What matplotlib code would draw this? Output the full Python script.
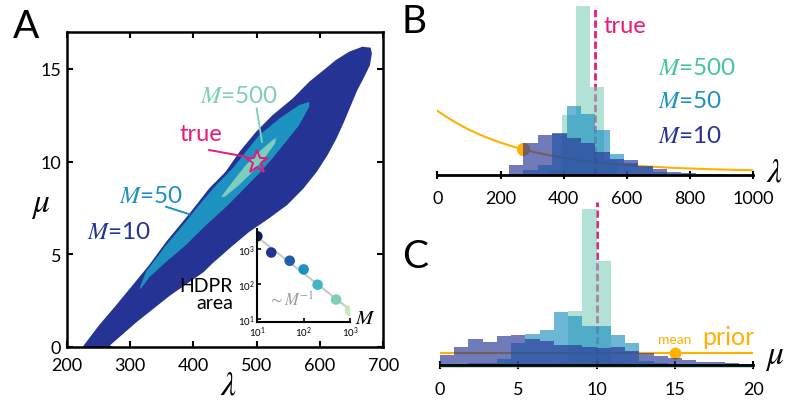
import numpy as np
import matplotlib.pyplot as plt
from matplotlib.ticker import LogLocator, NullLocator, LogFormatterSciNotation

plt.rcParams['font.family'] = ['Lato', 'DejaVu Sans']
plt.rcParams['mathtext.fontset'] = 'stix'

# cores (YlGnBu)
c10, c50, c500 = '#253494', '#1d91c0', '#7fcdbb'
pink = '#e8197a'
orange = '#ffb000'

# ---------------- painel A: regiões HDPR no plano (lambda, mu), contorno
hd10_lam = [225, 251, 278, 304, 330, 357, 394, 425, 451, 473, 499, 525, 557, 583, 609, 625, 646, 667, 680,
            682, 679, 670, 659, 649, 638, 626, 612, 595, 574, 548, 518, 488, 460, 430, 416, 363, 310, 268, 275]
hd10_mu = [0, 1.17, 2.25, 3.33, 4.41, 5.67, 7.2, 8.55, 9.45, 10.53, 11.6, 12.5, 13.4, 14.3, 15.02, 15.47,
           15.92, 16.19, 16.14,
           15.83, 15.2, 14.57, 13.85, 13.04, 12.14, 11.24, 10.35, 9.45, 8.55, 7.65, 6.9, 6.2, 5.4, 4.5,
           4.03, 2.77, 1.33, 0.08, 0]
hd50_lam = [315, 325, 357, 388, 409, 436, 462, 483, 504, 536, 567, 583,
            583, 567, 546, 525, 504, 478, 452, 420, 388, 357, 331, 317]
hd50_mu = [3.15, 4.05, 5.49, 6.75, 7.65, 8.73, 9.63, 10.53, 11.42, 12.32, 13.04, 13.22,
           12.95, 11.96, 11.06, 10.17, 9.36, 8.46, 7.56, 6.57, 5.49, 4.59, 3.78, 3.15]
hd500_lam = [444, 462, 483, 504, 525, 531, 529, 514, 494, 472, 450]
hd500_mu = [8.1, 8.91, 9.81, 10.53, 11.15, 11.28, 10.97, 10.26, 9.45, 8.73, 8.1]

true_lam, true_mu = 500, 10

# inset: área HDPR vs M
inset_M = [10, 20, 50, 100, 200, 500, 1000]
inset_area = [2300, 790, 460, 260, 95, 36, 17]
inset_cols = ['#081d58', '#253494', '#225ea8', '#1d91c0', '#41b6c4', '#7fcdbb', '#c7e9b4']

# ---------------- painel B: histogramas de lambda
b_edges = np.linspace(0, 1000, 23)
b_m10 = [0, 0, 0, 0, 0, 10, 31.5, 39.7, 42, 36.3, 31.7, 22.3, 15.7, 14.7, 9, 5.7, 3, 1.7, 1.2, 0.7, 0, 0]
b_m50 = [0, 0, 0, 0, 0, 0, 4.5, 10, 40.7, 69, 60.7, 44.7, 20.7, 12, 7.4, 3, 0, 0, 0, 0, 0, 0]
b500_edges = [351, 395, 439, 483, 527, 571]
b_m500 = [5, 60, 168.4, 87.4, 15]
prior_lam = [0, 25, 50, 75, 100, 125, 150, 175, 200, 236, 272, 300, 350, 400, 450, 500, 550, 600,
             650, 700, 750, 800, 850, 900, 950, 1000]
prior_lam_h = [64, 58.6, 53.7, 49.2, 45.1, 41.4, 38.0, 34.9, 32.1, 28.4, 25.3, 23.1, 19.7, 16.9, 14.5,
               12.6, 11.0, 9.6, 8.5, 7.6, 6.8, 6.2, 5.6, 5.2, 4.8, 4.5]
prior_lam_mean = 272

# ---------------- painel C: histogramas de mu
c_edges = np.linspace(0, 20, 23)
c_m10 = [10.5, 18.8, 26.5, 23.8, 29.5, 30.5, 26.5, 24.8, 20.8, 20.8, 18.2, 17.2, 18.2, 14.8, 12.5, 9.8,
         7.2, 5.8, 3.8, 3.2, 2.5, 1.5]
c_m50 = [0.5, 1, 2.2, 2.2, 6.5, 22.5, 31.2, 35.5, 53.2, 49.8, 39.2, 39.2, 30.5, 22.2, 4, 2, 0, 0, 0, 0, 0, 0]
c_m500 = [0, 0, 0, 0, 0, 0, 0, 0, 3, 54.2, 156.5, 104.8, 3, 0, 0, 0, 0, 0, 0, 0, 0, 0]
prior_mu_h = 12.3
prior_mu_mean = 15


fig = plt.figure(figsize=(7.85, 4.06), dpi=100)

# ======== A
ax = fig.add_axes([0.08497, 0.14286, 0.40331, 0.77660])
ax.fill(hd10_lam, hd10_mu, color=c10, lw=0)
ax.fill(hd50_lam, hd50_mu, color=c50, lw=0)
ax.fill(hd500_lam, hd500_mu, color=c500, lw=0)
ax.plot(true_lam, true_mu, marker='*', ms=17, mfc='none', mec=pink, mew=1.4)
ax.set_xlim(200, 700)
ax.set_ylim(0, 17)
ax.set_xticks([200, 300, 400, 500, 600, 700])
ax.set_yticks([0, 5, 10, 15])
ax.tick_params(direction='in', top=True, right=True, length=4, width=1.5, labelsize=13)
ax.tick_params(axis='x', pad=7)
ax.tick_params(axis='y', pad=4)
for s in ax.spines.values():
    s.set_linewidth(1.8)

ax.text(473, 13.58, '$M$=500', color=c500, fontsize=17.5, ha='center', va='center')
ax.plot([500, 508.4], [12.86, 11.06], color=c500, lw=1.4)
ax.text(412, 11.5, 'true', color=pink, fontsize=17, ha='center', va='center')
ax.plot([425, 483], [10.62, 10.26], color=pink, lw=1.4)
ax.text(333, 8.19, '$M$=50', color=c50, fontsize=17.5, ha='center', va='center')
ax.plot([357, 393.6], [7.56, 7.16], color=c50, lw=1.4)
ax.text(283, 6.21, '$M$=10', color=c10, fontsize=17.5, ha='center', va='center')
ax.text(462.6, 2.86, 'HDPR\narea', fontsize=14, ha='right', va='center',
        multialignment='right', linespacing=0.95)

fig.text(0.0331, 0.9335, 'A', fontsize=28, ha='center', va='center')
fig.text(0.2904, 0.0517, r'$\lambda$', fontsize=24, ha='center', va='center')
fig.text(0.0522, 0.4926, r'$\mu$', fontsize=24, ha='center', va='center')

# inset
ins = fig.add_axes([0.32777, 0.20443, 0.11809, 0.22906])
ins.set_facecolor('none')
ins.set_xscale('log')
ins.set_yscale('log')
p = np.polyfit(np.log10(inset_M), np.log10(inset_area), 1)
ins.plot(inset_M, 10 ** np.polyval(p, np.log10(inset_M)), color='#c8c8c8', lw=1.5, zorder=1)
ins.scatter(inset_M, inset_area, c=inset_cols, s=58, lw=0, zorder=2)
ins.set_xlim(10, 1000)
ins.set_ylim(8.2, 3700)
for a in (ins.xaxis, ins.yaxis):
    a.set_major_locator(LogLocator(base=10, numticks=5))
    a.set_major_formatter(LogFormatterSciNotation())
    a.set_minor_locator(NullLocator())
ins.spines['top'].set_visible(False)
ins.spines['right'].set_visible(False)
ins.spines['left'].set_linewidth(1.5)
ins.spines['bottom'].set_linewidth(1.5)
ins.tick_params(direction='in', length=3, width=1.2, labelsize=7, pad=2)
ins.text(0.371, 0.247, r'$\sim M^{-1}$', color='#9a9a9a', fontsize=12, ha='center', va='center',
         transform=ins.transAxes)
ins.text(1.162, 0.054, '$M$', fontsize=15, ha='center', va='center', transform=ins.transAxes)

# ======== B
bx = fig.add_axes([0.55707, 0.56724, 0.40255, 0.41552])
bx.plot(prior_lam, prior_lam_h, color=orange, lw=1.5, zorder=1)
bx.plot(prior_lam_mean, np.interp(prior_lam_mean, prior_lam, prior_lam_h), 'o', color=orange, ms=8.5,
        zorder=1)
bx.axvline(true_lam, color=pink, lw=2, ls=(0, (2.6, 1.2)), zorder=1)
bx.stairs(b_m500, b500_edges, fill=True, color=c500, alpha=0.6, lw=0, zorder=2)
bx.stairs(b_m50, b_edges, fill=True, color=c50, alpha=0.65, lw=0, zorder=3)
bx.stairs(b_m10, b_edges, fill=True, color=c10, alpha=0.65, lw=0, zorder=4)
bx.set_xlim(0, 1000)
bx.set_ylim(0, 168.7)
bx.set_xticks([0, 200, 400, 600, 800, 1000])
bx.set_yticks([])
for s in ['top', 'right', 'left']:
    bx.spines[s].set_visible(False)
bx.spines['bottom'].set_linewidth(2)
bx.spines['bottom'].set_zorder(5)
bx.tick_params(axis='x', direction='inout', length=6, width=1.5, labelsize=13, pad=8)
bx.patch.set_visible(False)

fig.text(0.5274, 0.9446, 'B', fontsize=28, ha='center', va='center')
fig.text(0.7682, 0.9342, 'true', color=pink, fontsize=17, ha='left', va='center')
fig.text(0.8386, 0.8325, '$M$=500', color='#45c3a0', fontsize=17.5, ha='left', va='center')
fig.text(0.8386, 0.7495, '$M$=50', color=c50, fontsize=17.5, ha='left', va='center')
fig.text(0.8386, 0.6633, '$M$=10', color=c10, fontsize=17.5, ha='left', va='center')
fig.text(0.986, 0.5739, r'$\lambda$', fontsize=24, ha='center', va='center')

# ======== C
cx = fig.add_axes([0.56051, 0.08744, 0.39911, 0.41256])
cx.plot(c_edges[[0, -1]], [prior_mu_h, prior_mu_h], color=orange, lw=1.5, zorder=1)
cx.plot(prior_mu_mean, prior_mu_h, 'o', color=orange, ms=7.5, zorder=1)
cx.vlines(true_mu, 0, 163.5, color=pink, lw=2, ls=(0, (2.6, 1.2)), zorder=1)
cx.stairs(c_m500, c_edges, baseline=-2.5, fill=True, color=c500, alpha=0.6, lw=0, zorder=2)
cx.stairs(c_m50, c_edges, fill=True, color=c50, alpha=0.65, lw=0, zorder=3)
cx.stairs(c_m10, c_edges, fill=True, color=c10, alpha=0.65, lw=0, zorder=4)
cx.set_xlim(0, 20)
cx.set_ylim(-4, 163.5)
cx.set_xticks([0, 5, 10, 15, 20])
cx.set_yticks([])
for s in ['top', 'right', 'left']:
    cx.spines[s].set_visible(False)
cx.spines['bottom'].set_position(('data', 0))
cx.spines['bottom'].set_linewidth(2)
cx.spines['bottom'].set_zorder(5)
cx.tick_params(axis='x', direction='inout', length=6, width=1.5, labelsize=13, pad=8)
cx.patch.set_visible(False)

fig.text(0.5287, 0.367, 'C', fontsize=28, ha='center', va='center')
fig.text(0.8599, 0.1626, 'mean', color=orange, fontsize=10, ha='center', va='center')
fig.text(0.9274, 0.1675, 'prior', color=orange, fontsize=18, ha='center', va='center')
fig.text(0.9873, 0.1182, r'$\mu$', fontsize=24, ha='center', va='center')

fig.savefig('out.png', dpi=100)
